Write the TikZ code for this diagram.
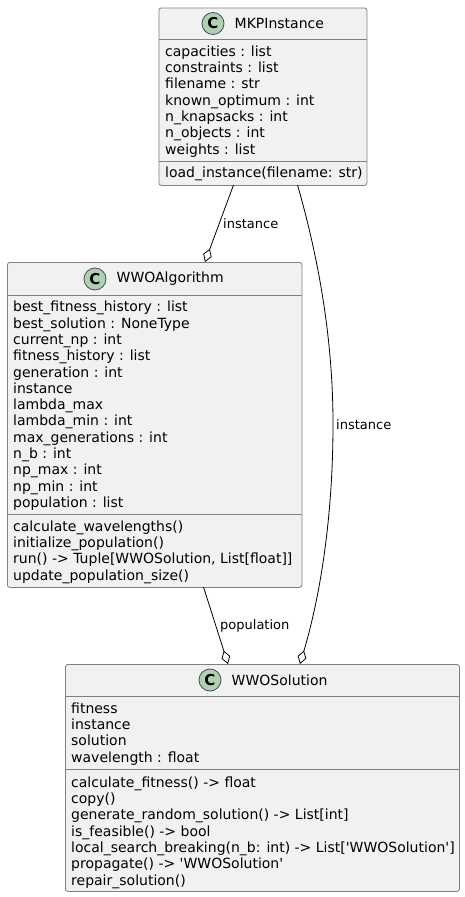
\documentclass[tikz,border=0pt]{standalone}
\usepackage{fontspec}
\setmainfont{DejaVu Sans}
\usetikzlibrary{arrows.meta}
\definecolor{boxfill}{HTML}{F1F1F1}
\definecolor{boxline}{HTML}{808080}
\definecolor{spotfill}{HTML}{ADD1B2}
\tikzset{
	classbox/.style={draw=boxline,fill=boxfill,rounded corners=2.5pt,line width=0.8pt,anchor=north west,inner sep=0pt},
	members/.style={anchor=north west,inner sep=0pt,align=left,font=\fontsize{14}{16.3}\selectfont},
	title/.style={inner sep=0pt,font=\fontsize{14}{16.3}\selectfont},
	spot/.style={circle,draw=black!70,fill=spotfill,minimum size=22pt,inner sep=0pt,line width=0.8pt,font=\fontsize{15}{15}\bfseries\selectfont},
	link/.style={draw=black,line width=0.8pt,-{Diamond[open,length=14pt,width=9pt,line width=0.8pt]}},
	linklabel/.style={inner sep=0pt,anchor=west,font=\fontsize{13}{15}\selectfont}
}
\begin{document}
\begin{tikzpicture}[x=1pt,y=-1pt]
	\useasboundingbox (0,0) rectangle (465,897);
	% classes
	\node[classbox,minimum width=208pt,minimum height=177.5pt] (mkp) at (158.5,7.5) {};
	\node[classbox,minimum width=294.5pt,minimum height=325pt] (algo) at (7,262) {};
	\node[classbox,minimum width=394pt,minimum height=227pt] (sol) at (65,664) {};
	% headers
	\draw[boxline,line width=0.8pt] (158.5,39.5)--(366.5,39.5) (158.5,161)--(366.5,161);
	\draw[boxline,line width=0.8pt] (7,295)--(301.5,295) (7,514.5)--(301.5,514.5);
	\draw[boxline,line width=0.8pt] (65,696)--(459,696) (65,769)--(459,769);
	\node[spot] (mkpc) at (213,23.5) {C};
	\node[title,anchor=west] (mkpt) at (234.5,23.5) {MKPInstance};
	\node[spot] (algoc) at (95,279) {C};
	\node[title,anchor=west] (algot) at (116.5,279) {WWOAlgorithm};
	\node[spot] (solc) at (210,680) {C};
	\node[title,anchor=west] (solt) at (231.5,680) {WWOSolution};
	% fields and methods
	\node[members] (mkpf) at (165,45.5) {capacities : list\\constraints : list\\filename : str\\known\_optimum : int\\n\_knapsacks : int\\n\_objects : int\\weights : list};
	\node[members] (mkpm) at (165,167) {load\_instance(filename: str)};
	\node[members] (algof) at (13,301) {best\_fitness\_history : list\\best\_solution : NoneType\\current\_np : int\\fitness\_history : list\\generation : int\\instance\\lambda\_max\\lambda\_min : int\\max\_generations : int\\n\_b : int\\np\_max : int\\np\_min : int\\population : list};
	\node[members] (algom) at (13,520.5) {calculate\_wavelengths()\\initialize\_population()\\run() -> Tuple[WWOSolution, List[float]]\\update\_population\_size()};
	\node[members] (solf) at (71,702.5) {fitness\\instance\\solution\\wavelength : float};
	\node[members] (solm) at (71,776.5) {calculate\_fitness() -> float\\copy()\\generate\_random\_solution() -> List[int]\\is\_feasible() -> bool\\local\_search\_breaking(n\_b: int) -> List[\textquotesingle WWOSolution\textquotesingle]\\propagate() -> \textquotesingle WWOSolution\textquotesingle\\repair\_solution()};
	% links
	\coordinate (mkpa) at (233.5,185);
	\coordinate (mkpb) at (297.5,185);
	\coordinate (algoin) at (205,262);
	\coordinate (algoout) at (203.5,587);
	\coordinate (solina) at (228,664);
	\coordinate (solinb) at (300,664);
	\draw[link] (mkpa)--(algoin);
	\draw[link] (algoout)--(solina);
	\draw[link] (mkpb) .. controls (322,270) and (333,350) .. (333,424) .. controls (333,510) and (322,590) .. (solinb);
	\node[linklabel] (lab1) at (223,223.5) {instance};
	\node[linklabel] (lab2) at (336,424.5) {instance};
	\node[linklabel] (lab3) at (220,625.5) {population};
\end{tikzpicture}
\end{document}
